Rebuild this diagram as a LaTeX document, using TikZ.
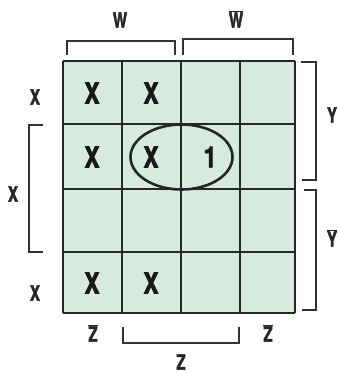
\documentclass[tikz,border=0pt]{standalone}
\usepackage{fontspec}
\setmainfont{TeX Gyre Heros}
\newfontfamily\hv{TeX Gyre Heros}[BoldFeatures={FakeBold=2.5}]
\begin{document}
\begin{tikzpicture}[x=1pt,y=-1pt,
  gridline/.style={line width=1.6pt,draw=black!85},
  brk/.style={line width=1.4pt,draw=black!80,line cap=butt},
  cellmark/.style={font=\hv\bfseries\fontsize{29}{29}\selectfont,xscale=0.78,transform shape,inner sep=0pt,text=black!90},
  lbl/.style={font=\hv\bfseries\fontsize{21}{21}\selectfont,xscale=0.72,transform shape,inner sep=0pt,text=black!85}]
\useasboundingbox (0,0) rectangle (339,373);
\fill[fill={rgb,255:red,214;green,234;blue,222}] (63,61) rectangle (295,313);
% grid
\foreach \xx in {63,122,181,240,295} \draw[gridline] (\xx,61) -- (\xx,313);
\foreach \yy in {61,124,189,252,313} \draw[gridline] (63,\yy) -- (295,\yy);
% cell entries
\node[cellmark] (a1) at (92,93) {X};
\node[cellmark] (a2) at (151,93) {X};
\node[cellmark] (b1) at (92,157) {X};
\node[cellmark] (b2) at (151,157) {X};
\node[cellmark] (b3) at (210,157) {1};
\node[cellmark] (d1) at (92,283) {X};
\node[cellmark] (d2) at (151,283) {X};
% ellipse
\draw[line width=2.6pt,black!85] (181.5,157) ellipse [x radius=51,y radius=32.5];
% top brackets
\draw[brk] (67,55) -- (67,41) -- (175,41) -- (175,55);
\draw[brk] (183,55) -- (183,39) -- (293,39) -- (293,55);
\node[lbl] (w1) at (120,20) {W};
\node[lbl] (w2) at (236,19) {$\overline{\mbox{W}}$};
% right brackets
\draw[brk] (301,62) -- (316,62) -- (316,180) -- (302,180);
\draw[brk] (304,190) -- (316,190) -- (316,310) -- (302,310);
\node[lbl] (y1) at (332,115) {Y};
\node[lbl] (y2) at (332,238) {$\overline{\mbox{Y}}$};
% left bracket
\draw[brk] (43,125) -- (29,125) -- (29,252) -- (43,252);
\node[lbl] (x0) at (13,194) {X};
\node[lbl] (x1) at (35,97) {X};
\node[lbl] (x2) at (35,293) {X};
% bottom bracket
\draw[brk] (123,327) -- (123,343) -- (239,343) -- (239,327);
\node[lbl] (z1) at (93,333) {$\overline{\mbox{Z}}$};
\node[lbl] (z2) at (268,333) {$\overline{\mbox{Z}}$};
\node[lbl] (z0) at (181,362) {Z};
\end{tikzpicture}
\end{document}
